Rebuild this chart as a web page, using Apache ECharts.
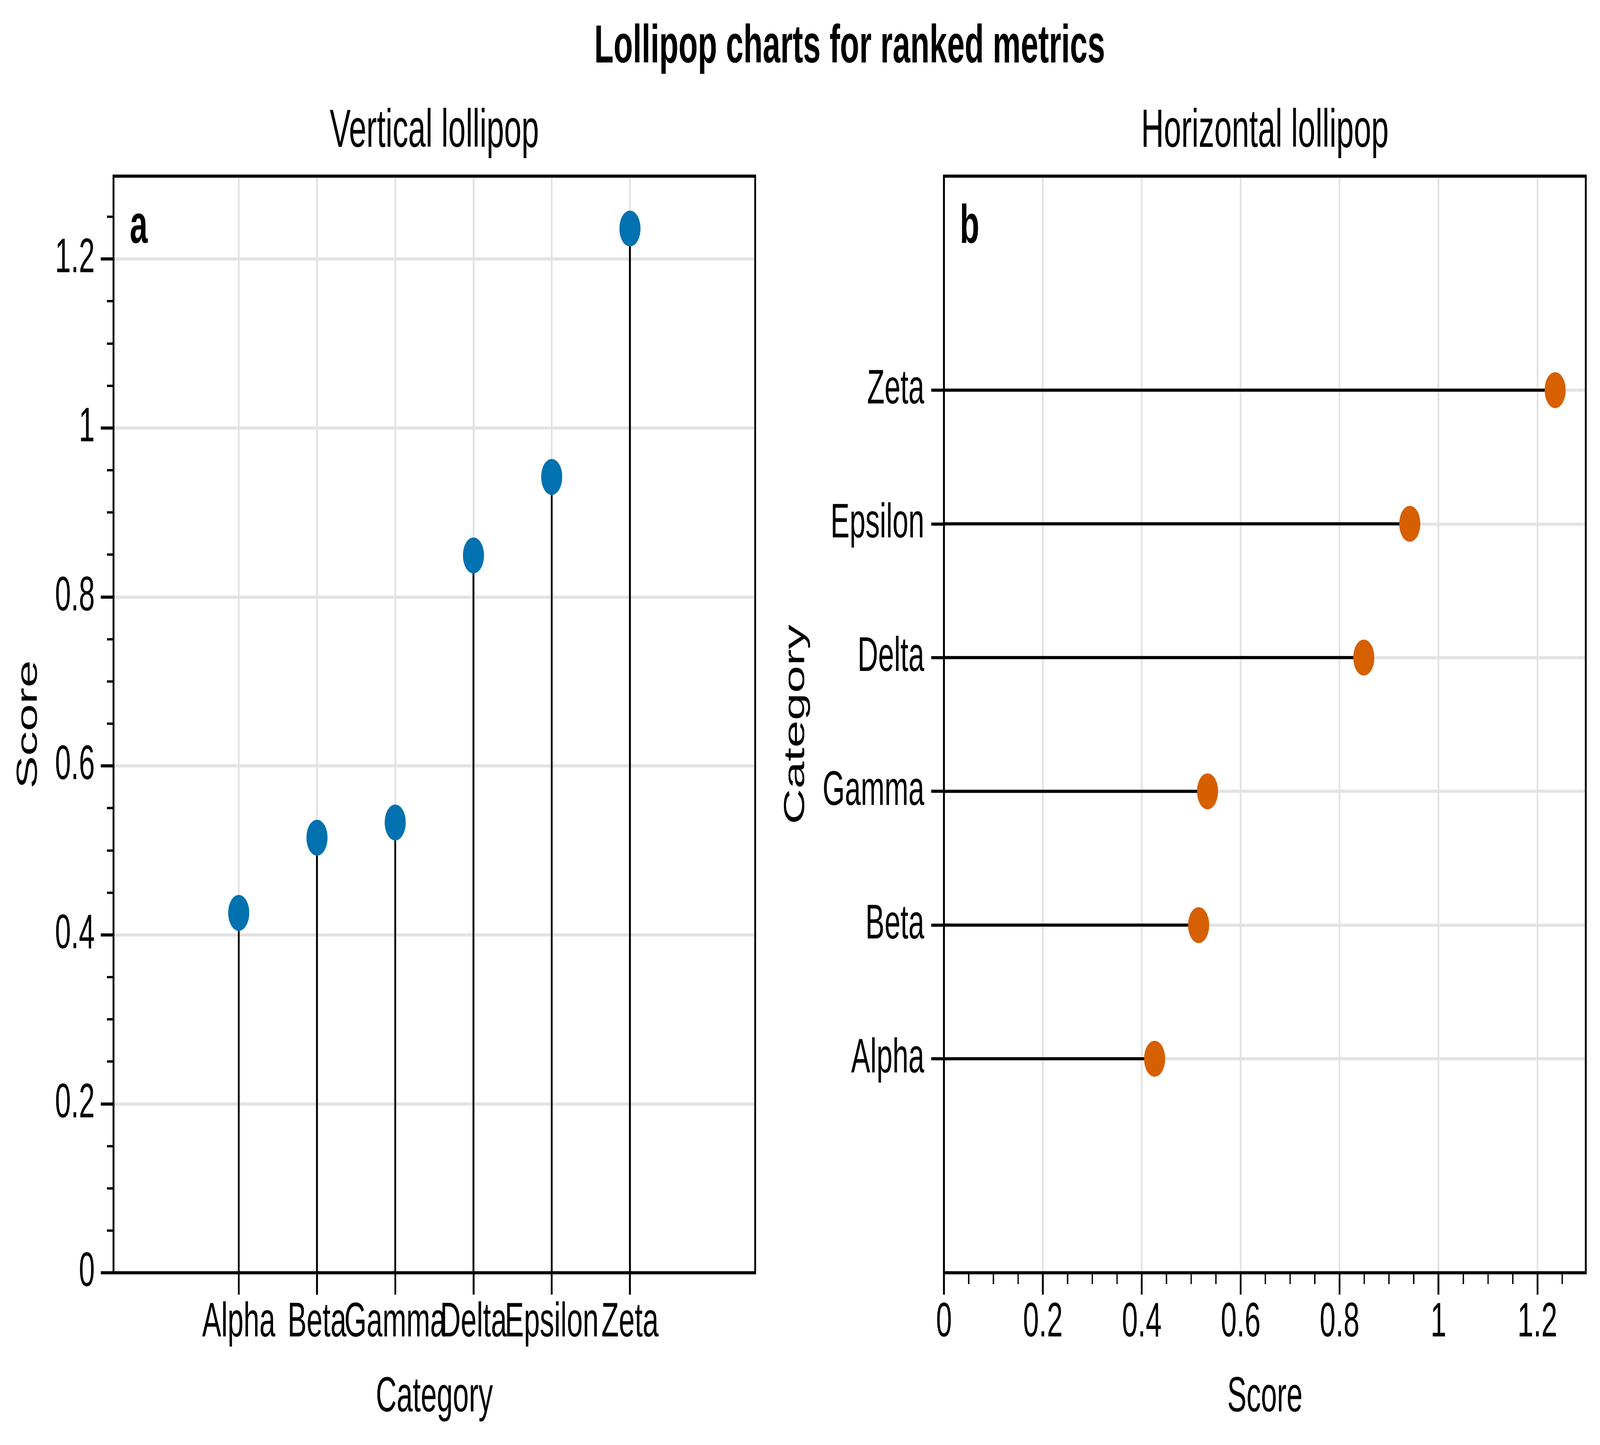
<!DOCTYPE html>
<html>
<head>
<meta charset="utf-8">
<title>Lollipop charts for ranked metrics</title>
<script src="https://cdn.jsdelivr.net/npm/echarts@6/dist/echarts.min.js"></script>
<style>
  html, body { margin: 0; padding: 0; background: #fff; overflow: hidden; }
  #chart { width: 6990px; height: 3700px; transform-origin: 0 0; }
</style>
</head>
<body>
<div id="chart"></div>
<script>
// data
const categories = ['Alpha', 'Beta', 'Gamma', 'Delta', 'Epsilon', 'Zeta'];
const positions = [1, 2, 3, 4, 5, 6];
const scores = [0.426, 0.515, 0.533, 0.849, 0.942, 1.236];
const scoreTicks = [0, 0.2, 0.4, 0.6, 0.8, 1, 1.2];
const scoreMinorTicks = [0.05, 0.1, 0.15, 0.25, 0.3, 0.35, 0.45, 0.5, 0.55, 0.65, 0.7, 0.75,
  0.85, 0.9, 0.95, 1.05, 1.1, 1.15, 1.25];
const scoreRange = [0, 1.298];
const positionRange = [-0.6, 7.6];

// layout
const FONT = '"Liberation Sans", Arial, sans-serif';
const W = 6990, H = 3700;
const panelA = { x: 496, y: 451, w: 2803, h: 2808 };
const panelB = { x: 4124, y: 451, w: 2804, h: 2808 };
const GRID_COLOR = '#e3e3e3';
const BLUE = '#0271b0';
const ORANGE = '#d65f00';

const tickFont = { fontSize: 125, color: '#000', fontFamily: FONT };
const nameFont = { fontSize: 126, color: '#000', fontFamily: FONT };

// the page must show the full 6990x3700 figure even if the window is smaller
const box = document.getElementById('chart');
const sx = Math.min(1, window.innerWidth / W);
const sy = Math.min(1, window.innerHeight / H);
if (sx < 1 || sy < 1) box.style.transform = 'scale(' + sx + ',' + sy + ')';

function majorAxis(opts) {
  return Object.assign({
    type: 'value',
    axisLine: { show: false, onZero: false },
    splitLine: { show: true, lineStyle: { color: GRID_COLOR, width: 8 } },
    nameLocation: 'middle',
    nameTextStyle: nameFont
  }, opts);
}

function minorAxis(opts) {
  return Object.assign({
    type: 'value',
    axisLine: { show: false, onZero: false },
    axisTick: { show: true, inside: false, length: 29, customValues: scoreMinorTicks,
      lineStyle: { color: '#000', width: 6 } },
    axisLabel: { show: false },
    splitLine: { show: false },
    min: scoreRange[0],
    max: scoreRange[1]
  }, opts);
}

const majorTick = vals => ({ show: true, inside: false, length: 56, customValues: vals,
  lineStyle: { color: '#000', width: 8 } });

const catLabel = v => categories[positions.indexOf(v)];
const numLabel = v => String(v);

const vertData = positions.map((p, i) => [p, scores[i]]);
const horizData = scores.map((s, i) => [s, positions[i]]);

const chart = echarts.init(box, null, { renderer: 'canvas', width: W, height: H });

const option = {
  animation: false,
  backgroundColor: '#fff',
  textStyle: { fontFamily: FONT },
  grid: [
    { left: panelA.x, top: panelA.y, width: panelA.w, height: panelA.h },
    { left: panelB.x, top: panelB.y, width: panelB.w, height: panelB.h }
  ],
  xAxis: [
    majorAxis({
      gridIndex: 0, position: 'bottom',
      min: positionRange[0], max: positionRange[1],
      axisTick: majorTick(positions),
      axisLabel: Object.assign({ customValues: positions, formatter: catLabel, margin: 66 }, tickFont),
      name: 'Category', nameGap: 257
    }),
    majorAxis({
      gridIndex: 1, position: 'bottom',
      min: scoreRange[0], max: scoreRange[1],
      axisTick: majorTick(scoreTicks),
      axisLabel: Object.assign({ customValues: scoreTicks, formatter: numLabel, margin: 66 }, tickFont),
      name: 'Score', nameGap: 257
    }),
    minorAxis({ gridIndex: 1, position: 'bottom', offset: 0 })
  ],
  yAxis: [
    majorAxis({
      gridIndex: 0, position: 'left', offset: 0,
      min: scoreRange[0], max: scoreRange[1],
      axisTick: majorTick(scoreTicks),
      axisLabel: Object.assign({ customValues: scoreTicks, formatter: numLabel, margin: 82 }, tickFont),
      name: 'Score', nameGap: 307
    }),
    minorAxis({ gridIndex: 0, position: 'left', offset: 0 }),
    majorAxis({
      gridIndex: 1, position: 'left', offset: 0,
      min: positionRange[0], max: positionRange[1],
      axisTick: majorTick(positions),
      axisLabel: Object.assign({ customValues: positions, formatter: catLabel, margin: 86 }, tickFont),
      name: 'Category', nameGap: 583
    })
  ],
  series: [
    {
      type: 'custom', xAxisIndex: 0, yAxisIndex: 0, z: 2,
      data: vertData,
      renderItem: (params, api) => {
        const base = api.coord([api.value(0), scoreRange[0]]);
        const tip = api.coord([api.value(0), api.value(1)]);
        return { type: 'line', shape: { x1: base[0], y1: base[1], x2: tip[0], y2: tip[1] },
          style: { stroke: '#000', lineWidth: 8 } };
      }
    },
    {
      type: 'scatter', xAxisIndex: 0, yAxisIndex: 0, z: 3,
      data: vertData, symbol: 'circle', symbolSize: 92,
      itemStyle: { color: BLUE, borderWidth: 0, opacity: 1 }
    },
    {
      type: 'custom', xAxisIndex: 1, yAxisIndex: 2, z: 2,
      data: horizData,
      renderItem: (params, api) => {
        const base = api.coord([scoreRange[0], api.value(1)]);
        const tip = api.coord([api.value(0), api.value(1)]);
        return { type: 'line', shape: { x1: base[0], y1: base[1], x2: tip[0], y2: tip[1] },
          style: { stroke: '#000', lineWidth: 8 } };
      }
    },
    {
      type: 'scatter', xAxisIndex: 1, yAxisIndex: 2, z: 3,
      data: horizData, symbol: 'circle', symbolSize: 92,
      itemStyle: { color: ORANGE, borderWidth: 0, opacity: 1 }
    }
  ],
  graphic: [
    { type: 'rect', z: 100, silent: true,
      shape: { x: panelA.x, y: panelA.y, width: panelA.w, height: panelA.h },
      style: { fill: 'none', stroke: '#000', lineWidth: 8 } },
    { type: 'rect', z: 100, silent: true,
      shape: { x: panelB.x, y: panelB.y, width: panelB.w, height: panelB.h },
      style: { fill: 'none', stroke: '#000', lineWidth: 8 } },
    { type: 'text', z: 100, x: (panelA.x + panelB.x + panelB.w) / 2, y: 122,
      style: { text: 'Lollipop charts for ranked metrics', font: 'bold 138px ' + FONT, fill: '#000',
        align: 'center', verticalAlign: 'middle' } },
    { type: 'text', z: 100, x: panelA.x + panelA.w / 2, y: 338,
      style: { text: 'Vertical lollipop', font: '137px ' + FONT, fill: '#000',
        align: 'center', verticalAlign: 'middle' } },
    { type: 'text', z: 100, x: panelB.x + panelB.w / 2, y: 338,
      style: { text: 'Horizontal lollipop', font: '137px ' + FONT, fill: '#000',
        align: 'center', verticalAlign: 'middle' } },
    { type: 'text', z: 100, x: panelA.x + 71, y: 583,
      style: { text: 'a', font: 'bold 140px ' + FONT, fill: '#000',
        align: 'left', verticalAlign: 'middle' } },
    { type: 'text', z: 100, x: panelB.x + 69, y: 583,
      style: { text: 'b', font: 'bold 140px ' + FONT, fill: '#000',
        align: 'left', verticalAlign: 'middle' } }
  ]
};

chart.setOption(option);
</script>
</body>
</html>
